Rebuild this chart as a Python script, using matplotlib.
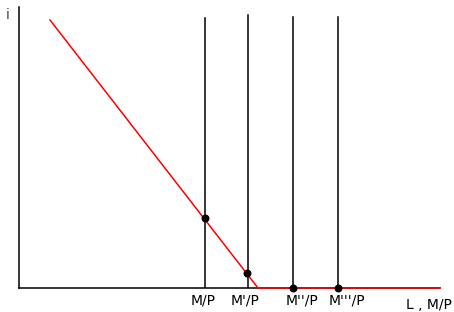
import matplotlib
matplotlib.use("Agg")
import matplotlib.pyplot as plt

# money demand curve (red), kinked at the liquidity trap
demand_x = [31, 239, 421]
demand_y = [268, 0, 0]

# money supply lines
supply_x = [186, 229, 274, 319]
supply_top = [270, 273, 271, 271]
supply_labels = ["M/P", "M'/P", "M''/P", "M'''/P"]
label_x = [184, 226, 283, 328]

# equilibrium points
eq_x = [186, 228, 274, 319]
eq_y = [70, 15, 0, 0]

fig = plt.figure(figsize=(4.54, 3.12), dpi=100)
ax = fig.add_axes([19 / 454, 24 / 312, 435 / 454, 288 / 312])
ax.set_xlim(0, 435)
ax.set_ylim(0, 288)
ax.axis("off")

# axes
ax.plot([0, 0], [0, 281], color="black", lw=1.1, clip_on=False)
ax.plot([0, 421], [0, 0], color="black", lw=1.1, clip_on=False)

for x, top in zip(supply_x, supply_top):
    ax.plot([x, x], [0, top], color="black", lw=1.1)

ax.plot(demand_x, demand_y, color="red", lw=1.1, clip_on=False)
ax.scatter(eq_x, eq_y, color="black", s=22, zorder=5, clip_on=False)

for lx, lab in zip(label_x, supply_labels):
    ax.text(lx, -12, lab, ha="center", va="center", fontsize=10)

ax.text(410, -17, "L , M/P", ha="center", va="center", fontsize=10)
ax.text(-11, 273, "i", ha="center", va="center", fontsize=10, color="#444444")

fig.savefig("out.png", dpi=100)
